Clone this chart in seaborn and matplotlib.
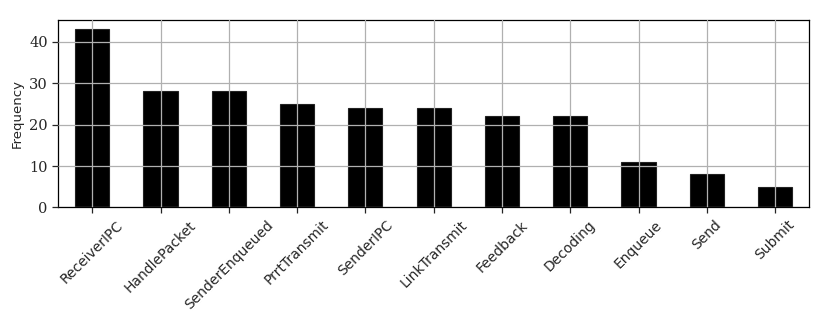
import matplotlib
matplotlib.use("Agg")
import matplotlib.pyplot as plt
import seaborn as sns
import pandas as pd

# ── Data ──────────────────────────────────────────────────────────────────────
stages = ["ReceiverIPC", "HandlePacket", "SenderEnqueued", "PrrtTransmit",
          "SenderIPC", "LinkTransmit", "Feedback", "Decoding", "Enqueue",
          "Send", "Submit"]
frequency = [43, 28, 28, 25, 24, 24, 22, 22, 11, 8, 5]

sns.set_theme(style="ticks")
plt.rcParams["font.family"] = ["DejaVu Sans"]

df = pd.DataFrame({"stage": stages, "frequency": frequency})

fig, ax = plt.subplots(figsize=(8.3, 3.12), dpi=100)
sns.barplot(data=df, x="stage", y="frequency", color="black", width=0.5,
            edgecolor="#222222", linewidth=0.8, saturation=1, ax=ax)

ax.set_axisbelow(False)
ax.grid(True, color="#b0b0b0", linewidth=0.9)
for s in ax.spines.values():
    s.set_visible(True)
    s.set_color("black")
    s.set_linewidth(0.9)

ax.set_xlim(-0.5, len(stages) - 0.5)
ax.set_ylim(0, 45.15)
ax.set_yticks([0, 10, 20, 30, 40])
ax.set_yticklabels(["0", "10", "20", "30", "40"], family="DejaVu Serif", fontsize=10.5)
ax.set_xlabel("")
ax.set_ylabel("Frequency", fontsize=9.5)
ax.tick_params(axis="x", labelsize=10, length=4, width=0.9)
ax.tick_params(axis="y", length=4, width=0.9)
plt.setp(ax.get_xticklabels(), rotation=45, ha="center")

fig.subplots_adjust(left=0.07, right=0.975, top=0.935, bottom=0.335)
fig.savefig("out.png", dpi=100)
